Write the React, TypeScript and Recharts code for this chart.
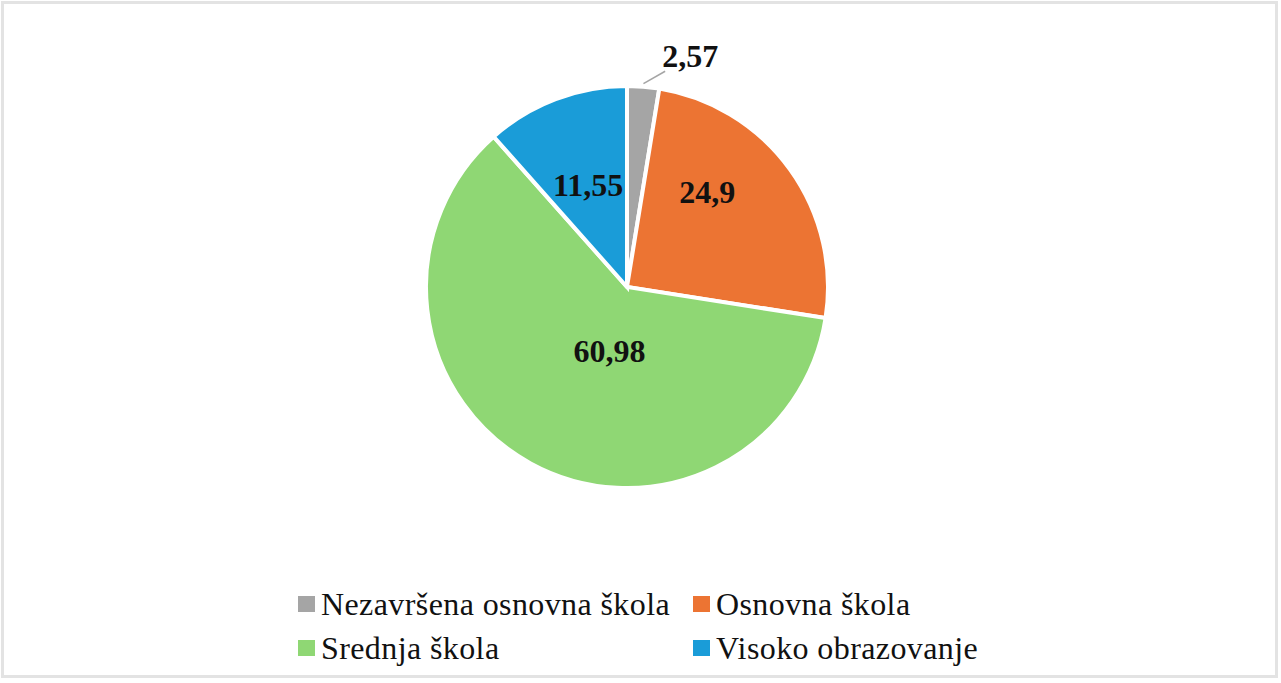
import React from "react";
import { PieChart, Pie, Cell, Legend } from "recharts";

const categories = [
  "Nezavršena osnovna škola",
  "Osnovna škola",
  "Srednja škola",
  "Visoko obrazovanje",
];
const shares = [2.57, 24.9, 60.98, 11.55];
const colors = ["#A5A5A5", "#EC7433", "#8FD774", "#1A9CD8"];

// label placement per slice: radius factor and angle shift (degrees) from slice mid-angle
const labelRadius = [1.19, 0.62, 0.33, 0.545];
const labelShift = [-10.7, 14, 13.4, 0];

const data = categories.map((name, i) => ({ name, value: shares[i] }));

const RAD = Math.PI / 180;
const FONT = "'Liberation Serif', 'Times New Roman', serif";

const renderLabel = (props: any) => {
  const { cx, cy, midAngle, outerRadius, index, value } = props;
  const a = midAngle + labelShift[index];
  const r = outerRadius * labelRadius[index];
  const x = cx + r * Math.cos(-a * RAD);
  const y = cy + r * Math.sin(-a * RAD);
  const text = String(value).replace(".", ",");
  const outside = labelRadius[index] > 1;
  let line = null;
  if (outside) {
    const r1 = outerRadius + 3;
    const x1 = cx + r1 * Math.cos(-midAngle * RAD);
    const y1 = cy + r1 * Math.sin(-midAngle * RAD);
    const a2 = midAngle - 5.4;
    const r2 = outerRadius * 1.09;
    const x2 = cx + r2 * Math.cos(-a2 * RAD);
    const y2 = cy + r2 * Math.sin(-a2 * RAD);
    line = <line x1={x1} y1={y1} x2={x2} y2={y2} stroke="#A5A5A5" strokeWidth={1.5} />;
  }
  return (
    <g key={`lbl-${index}`}>
      {line}
      <text
        x={x}
        y={y}
        textAnchor="middle"
        dominantBaseline="central"
        fontFamily={FONT}
        fontWeight="bold"
        fontSize={32}
        fill="#111"
      >
        {text}
      </text>
    </g>
  );
};

const LegendContent = (props: any) => {
  const payload = props.payload || [];
  return (
    <div
      style={{
        display: "grid",
        gridTemplateColumns: "395px auto",
        gridAutoRows: "44px",
        fontFamily: FONT,
        fontSize: 32,
        letterSpacing: 0.4,
        color: "#111",
      }}
    >
      {payload.map((p: any, i: number) => (
        <div key={i} style={{ display: "flex", alignItems: "center", whiteSpace: "nowrap" }}>
          <span
            style={{
              display: "inline-block",
              width: 17,
              height: 16,
              background: p.color,
              marginRight: 6,
            }}
          />
          <span>{p.value}</span>
        </div>
      ))}
    </div>
  );
};

export default function App() {
  return (
    <div
      style={{
        position: "absolute",
        left: 0,
        top: 0,
        width: 1281,
        height: 683,
        background: "#fff",
        overflow: "hidden",
      }}
    >
      <div
        style={{
          position: "absolute",
          left: 1,
          top: 1,
          width: 1277,
          height: 677,
          border: "3px solid #E3E3E3",
          boxSizing: "border-box",
        }}
      />
      <div style={{ position: "absolute", left: 0, top: 0 }}>
        <PieChart width={1281} height={683} margin={{ top: 0, right: 0, bottom: 0, left: 0 }}>
          <Pie
            data={data}
            dataKey="value"
            nameKey="name"
            cx={627}
            cy={287}
            outerRadius={201}
            startAngle={90}
            endAngle={-270}
            stroke="#fff"
            strokeWidth={4}
            label={renderLabel}
            labelLine={false}
            isAnimationActive={false}
          >
            {data.map((d, i) => (
              <Cell key={d.name} fill={colors[i]} />
            ))}
          </Pie>
          <Legend
            content={<LegendContent />}
            wrapperStyle={{ position: "absolute", left: 298, top: 582, width: 800, bottom: "auto" }}
          />
        </PieChart>
      </div>
    </div>
  );
}
